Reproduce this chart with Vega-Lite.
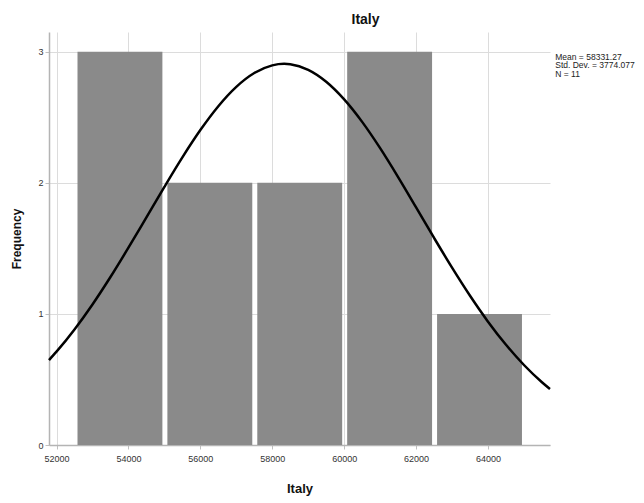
{
  "$schema": "https://vega.github.io/schema/vega-lite/v6.json",
  "width": 501,
  "height": 413,
  "autosize": {"type": "none"},
  "padding": {"left": 49, "top": 32, "right": 94, "bottom": 58},
  "background": "white",
  "title": {"text": "Italy", "fontSize": 14, "fontWeight": "bold", "font": "Liberation Sans", "color": "#111111", "dx": 66, "offset": 5},
  "config": {
    "view": {"stroke": null},
    "axis": {
      "labelFont": "Liberation Sans", "labelFontSize": 9, "labelColor": "#333333",
      "titleFont": "Liberation Sans", "titleFontWeight": "bold", "titleColor": "#111111",
      "gridColor": "#dcdcdc", "gridWidth": 1,
      "domainColor": "#b4b4b4", "domainWidth": 1.5,
      "tickColor": "#c0c0c0", "tickSize": 4
    }
  },
  "datasets": {
    "bins": [
      {"start": 52500, "end": 55000, "count": 3},
      {"start": 55000, "end": 57500, "count": 2},
      {"start": 57500, "end": 60000, "count": 2},
      {"start": 60000, "end": 62500, "count": 3},
      {"start": 62500, "end": 65000, "count": 1}
    ],
    "curve": [
      {"v": 51791, "f": 0.648},
      {"v": 52000, "f": 0.7118},
      {"v": 52500, "f": 0.8811},
      {"v": 53000, "f": 1.0718},
      {"v": 53500, "f": 1.2812},
      {"v": 54000, "f": 1.5047},
      {"v": 54500, "f": 1.7364},
      {"v": 55000, "f": 1.969},
      {"v": 55500, "f": 2.1939},
      {"v": 56000, "f": 2.402},
      {"v": 56500, "f": 2.5841},
      {"v": 57000, "f": 2.7316},
      {"v": 57500, "f": 2.8372},
      {"v": 58000, "f": 2.8957},
      {"v": 58331, "f": 2.9069},
      {"v": 58500, "f": 2.904},
      {"v": 59000, "f": 2.8616},
      {"v": 59500, "f": 2.7708},
      {"v": 60000, "f": 2.6362},
      {"v": 60500, "f": 2.4645},
      {"v": 61000, "f": 2.2639},
      {"v": 61500, "f": 2.0434},
      {"v": 62000, "f": 1.8123},
      {"v": 62500, "f": 1.5794},
      {"v": 63000, "f": 1.3525},
      {"v": 63500, "f": 1.138},
      {"v": 64000, "f": 0.9409},
      {"v": 64500, "f": 0.7644},
      {"v": 65000, "f": 0.6102},
      {"v": 65500, "f": 0.4786},
      {"v": 65724, "f": 0.4268}
    ],
    "stats": [
      {"label": "Mean = 58331.27", "tx": 65870, "ty": 2.962},
      {"label": "Std. Dev. = 3774.077", "tx": 65870, "ty": 2.895},
      {"label": "N = 11", "tx": 65870, "ty": 2.828}
    ]
  },
  "layer": [
    {
      "data": {"name": "bins"},
      "mark": {"type": "bar", "color": "#8a8a8a", "binSpacing": 5},
      "encoding": {
        "x": {
          "field": "start", "type": "quantitative", "bin": {"binned": true, "step": 2500},
          "scale": {"domain": [51791, 65724], "nice": false, "zero": false},
          "axis": {"values": [52000, 54000, 56000, 58000, 60000, 62000, 64000], "grid": true, "title": "Italy", "titleFontSize": 13, "titlePadding": 19, "labelPadding": 5, "format": "d"}
        },
        "x2": {"field": "end"},
        "y": {
          "field": "count", "type": "quantitative",
          "scale": {"domain": [0, 3.15], "nice": false},
          "axis": {"values": [0, 1, 2, 3], "grid": true, "title": "Frequency", "titleFontSize": 12, "titlePadding": 14, "labelPadding": 2, "format": "d"}
        }
      }
    },
    {
      "data": {"name": "curve"},
      "mark": {"type": "line", "color": "#000000", "strokeWidth": 2.5, "interpolate": "monotone"},
      "encoding": {
        "x": {"field": "v", "type": "quantitative"},
        "y": {"field": "f", "type": "quantitative"}
      }
    },
    {
      "data": {"name": "stats"},
      "mark": {"type": "text", "align": "left", "baseline": "middle", "font": "Liberation Sans", "fontSize": 8.5, "color": "#222222"},
      "encoding": {
        "x": {"field": "tx", "type": "quantitative"},
        "y": {"field": "ty", "type": "quantitative"},
        "text": {"field": "label"}
      }
    }
  ]
}
